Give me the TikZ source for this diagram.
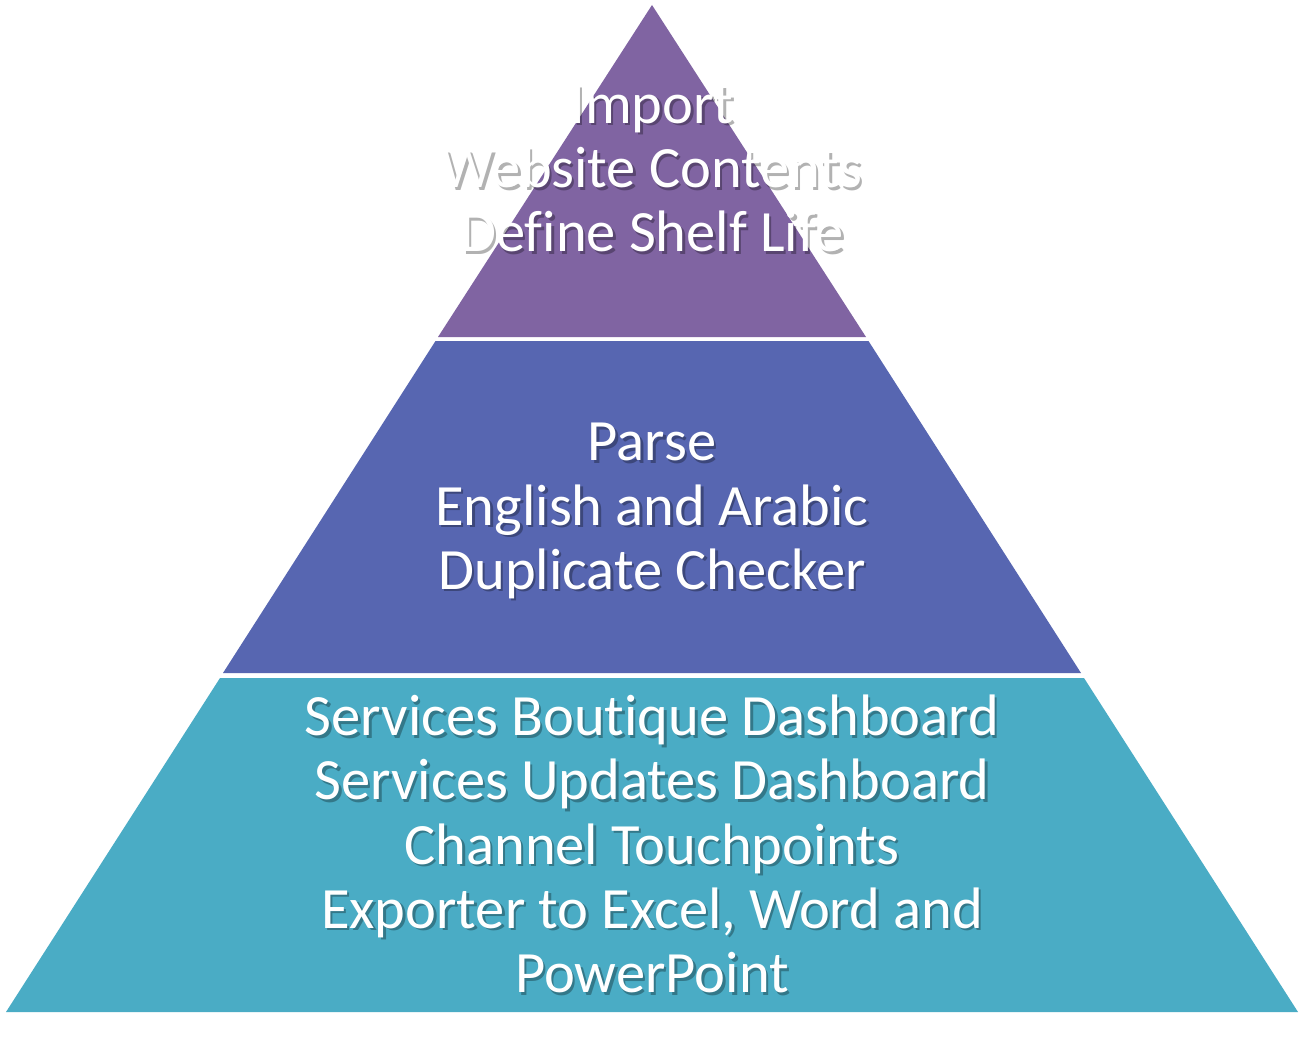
\documentclass[tikz,border=0pt]{standalone}
\usepackage{fontspec}
\setmainfont{Carlito}[Ligatures=NoCommon]
\definecolor{topc}{HTML}{8064A2}
\definecolor{midc}{HTML}{5766B1}
\definecolor{botc}{HTML}{4AACC5}
\tikzset{
  lbl/.style={text=white, align=center, font=\fontsize{58.5}{64.3}\selectfont, inner sep=0pt},
  shd/.style={text=black, text opacity=0.3, align=center, font=\fontsize{58.5}{64.3}\selectfont, inner sep=0pt},
}
\begin{document}
\begin{tikzpicture}[x=1pt,y=-1pt]
\useasboundingbox (0,0) rectangle (1304,1049);
\fill[white] (0,0) rectangle (1304,1049);
\fill[topc] (652,5) -- (866,337) -- (438,337) -- cycle;
\fill[midc] (868.5,341) -- (1081,673) -- (223,673) -- (435.5,341) -- cycle;
\fill[botc] (1084,678) -- (1298,1012) -- (6,1012) -- (220,678) -- cycle;
\node[shd] (ts) at (654.5,171.5) {Import\\Website Contents\\Define Shelf Life};
\node[lbl] (t) at (652,169) {Import\\Website Contents\\Define Shelf Life};
\node[shd] (ms) at (654.5,513.5) {Parse\\English and Arabic\\Duplicate Checker};
\node[lbl] (m) at (652,511) {Parse\\English and Arabic\\Duplicate Checker};
\node[shd] (bs) at (654.5,846.5) {Services Boutique Dashboard\\Services Updates Dashboard\\Channel Touchpoints\\Exporter to Excel, Word and\\PowerPoint};
\node[lbl] (b) at (652,844) {Services Boutique Dashboard\\Services Updates Dashboard\\Channel Touchpoints\\Exporter to Excel, Word and\\PowerPoint};
\end{tikzpicture}
\end{document}
